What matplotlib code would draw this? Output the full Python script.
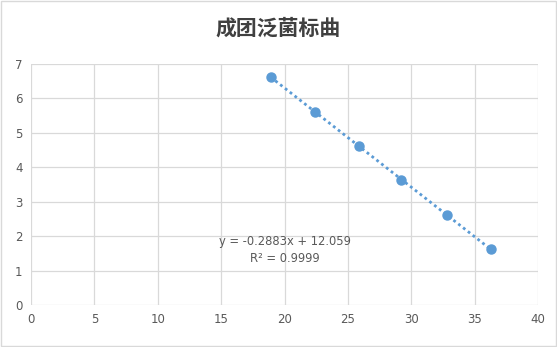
import matplotlib
matplotlib.use("Agg")
import matplotlib.pyplot as plt
import numpy as np

plt.rcParams["font.family"] = ["Noto Sans CJK SC", "DejaVu Sans"]

# data
x_vals = [18.9, 22.4, 25.9, 29.2, 32.8, 36.3]
y_vals = [6.62, 5.62, 4.62, 3.62, 2.62, 1.62]
x_ticks = [0, 5, 10, 15, 20, 25, 30, 35, 40]
y_ticks = [0, 1, 2, 3, 4, 5, 6, 7]
title = "成团泛菌标曲"
eq_text = "y = -0.2883x + 12.059\nR² = 0.9999"

BLUE = "#5B9BD5"
GRID = "#D9D9D9"
TXT = "#595959"

fig = plt.figure(figsize=(5.57, 3.47), dpi=100)
ax = fig.add_axes([31 / 557, 1 - 305 / 347, (538 - 31) / 557, (305 - 64) / 347])

# linear trendline over the data range
k, b = np.polyfit(x_vals, y_vals, 1)
tx = np.array([min(x_vals), max(x_vals)])
ax.plot(tx, k * tx + b, color=BLUE, linestyle=(0, (1, 1.2)), linewidth=2, zorder=2)
ax.plot(x_vals, y_vals, "o", color=BLUE, markersize=6.5, zorder=3)

ax.set_xlim(0, 40)
ax.set_ylim(0, 7)
ax.set_xticks(x_ticks)
ax.set_yticks(y_ticks)
ax.grid(True, color=GRID, linewidth=0.9)
ax.set_axisbelow(True)
for s in ax.spines.values():
    s.set_visible(False)
ax.tick_params(length=0, labelsize=8.5, labelcolor=TXT, pad=6)
for lbl in ax.get_xticklabels() + ax.get_yticklabels():
    lbl.set_fontfamily("DejaVu Sans")

ax.text(20.0, 1.6, eq_text, ha="center", va="center", fontsize=8.3,
        color=TXT, family="DejaVu Sans", linespacing=1.4)

fig.text(0.5, 1 - 28 / 347, title, ha="center", va="center",
         fontsize=15, fontweight="bold", color="#404040")

# outer chart border
fig.patches.append(plt.Rectangle((0.001, 0.002), 0.997, 0.995, transform=fig.transFigure,
                                 fill=False, edgecolor=GRID, linewidth=1))

fig.savefig("out.png", dpi=100)
